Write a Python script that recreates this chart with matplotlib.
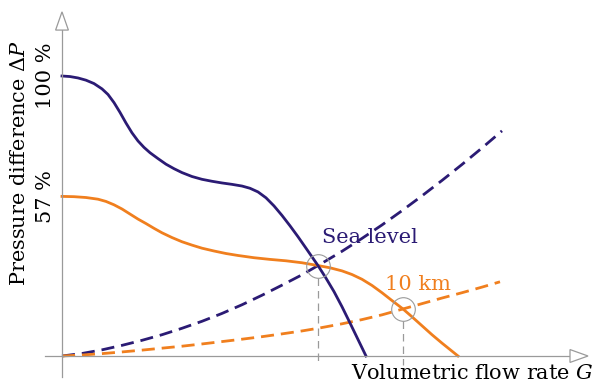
import matplotlib
matplotlib.use("Agg")
import matplotlib.pyplot as plt
from matplotlib.patches import Polygon

plt.rcParams['font.family'] = ['DejaVu Serif']
plt.rcParams['mathtext.fontset'] = 'dejavuserif'

NAVY = '#2B1B74'
ORANGE = '#F07F1E'
GRAY = '#9A9A9A'

# fan curve at sea level: flow rate G, pressure difference dP (% of max)
sea_fan_g = [0, 2, 4, 6, 8, 10, 11.5, 13, 14.5, 16, 17.5, 19, 20.5, 22, 24, 26,
             28, 30, 32.5, 35, 37.5, 40, 42.5, 45, 47, 49, 51, 53, 55, 57, 59,
             61, 62.5, 64, 66, 68, 70, 72, 74, 76]
sea_fan_p = [100, 99.8, 99.3, 98.5, 97.3, 95.4, 93.4, 90.5, 87.0, 83.2, 79.7,
             76.8, 74.5, 72.6, 70.5, 68.5, 66.9, 65.5, 64.1, 63.1, 62.4, 61.8,
             61.3, 60.7, 59.9, 58.6, 56.5, 53.6, 50.2, 46.5, 42.6, 38.5, 35.4,
             32.3, 27.8, 23.0, 17.6, 11.8, 5.9, 0]

# fan curve at 10 km altitude
alt_fan_g = [0, 3, 6, 9, 11, 13, 15, 17, 19, 21, 23, 25, 27.5, 30, 32.5, 35,
             38, 41, 44, 48, 52, 56, 60, 64, 67, 70, 72.5, 75, 77.5, 80, 82.5,
             85.25, 87.5, 90, 92.5, 95, 97, 99]
alt_fan_p = [57, 56.9, 56.6, 56.0, 55.2, 54.0, 52.5, 50.7, 48.9, 47.3, 45.6,
             44.0, 42.3, 40.8, 39.6, 38.5, 37.5, 36.6, 35.9, 35.1, 34.5, 34.0,
             33.3, 32.3, 31.5, 30.4, 29.1, 27.4, 25.2, 22.6, 19.8, 16.8, 14.0,
             10.8, 7.6, 4.6, 2.3, 0]

# system (duct) curves
sea_sys_g = [0, 5, 10, 15, 20, 25, 30, 35, 40, 45, 50, 55, 60, 64, 70, 75, 80,
             85, 90, 95, 100, 105, 110]
sea_sys_p = [0, 0.9, 2.2, 3.8, 5.6, 7.6, 9.9, 12.4, 15.2, 18.3, 21.7, 25.3,
             29.0, 32.3, 37.4, 42.0, 46.8, 51.9, 57.2, 62.7, 68.4, 74.3, 80.4]

alt_sys_g = [0, 5, 10, 15, 20, 25, 30, 35, 40, 45, 50, 55, 60, 64, 70, 75, 80,
             85.25, 90, 95, 100, 105, 109.5]
alt_sys_p = [0, 0.35, 0.85, 1.45, 2.1, 2.8, 3.5, 4.3, 5.15, 6.0, 6.9, 7.9,
             8.95, 9.9, 11.5, 13.0, 14.7, 16.8, 18.7, 20.7, 22.6, 24.6, 26.5]

# operating points
op_g = [64, 85.25]
op_p = [32.3, 16.8]

tick_values = [100, 57]
tick_labels = ['100 %', '57 %']

fig = plt.figure(figsize=(5.96, 3.92), dpi=100)
ax = fig.add_axes([0, 0, 1, 1])
ax.set_xlim(-15.5, 133.5)
ax.set_ylim(-12.857, 127.14)

# axes through the origin with open arrow heads
for side in ['top', 'right']:
    ax.spines[side].set_visible(False)
ax.spines['left'].set_position(('data', 0))
ax.spines['bottom'].set_position(('data', 0))
ax.spines['left'].set_bounds(-7.5, 116.4)
ax.spines['bottom'].set_bounds(-4.25, 127)
for side in ['left', 'bottom']:
    ax.spines[side].set_color(GRAY)
    ax.spines[side].set_linewidth(0.9)
ax.add_patch(Polygon([(-1.6, 116.4), (1.6, 116.4), (0, 122.9)], closed=True,
                     fc='white', ec=GRAY, lw=0.9, zorder=3))
ax.add_patch(Polygon([(127, -2.3), (127, 2.3), (131.5, 0)], closed=True,
                     fc='white', ec=GRAY, lw=0.9, zorder=3))

ax.set_xticks([])
ax.set_yticks(tick_values)
ax.set_yticklabels(tick_labels, rotation=90, va='center', fontsize=15)
ax.tick_params(axis='y', length=0, pad=5)

# guide lines from operating points down to the flow axis
for g, p in zip(op_g, op_p):
    ax.plot([g, g], [p - 4.3, -3.2], color=GRAY, lw=0.9, dashes=(6, 4), zorder=1)

line_kw = dict(lw=2, zorder=2, solid_joinstyle='round', dash_joinstyle='round')
ax.plot(sea_sys_g, sea_sys_p, color=NAVY, dashes=(4.7, 2.5), **line_kw)
ax.plot(alt_sys_g, alt_sys_p, color=ORANGE, dashes=(4.7, 2.5), **line_kw)
ax.plot(alt_fan_g, alt_fan_p, color=ORANGE, **line_kw)
ax.plot(sea_fan_g, sea_fan_p, color=NAVY, **line_kw)

ax.plot(op_g, op_p, ls='none', marker='o', ms=17, mfc='none', mec=GRAY,
        mew=0.8, zorder=4)

ax.text(65, 40.4, 'Sea level', color=NAVY, fontsize=15, va='baseline')
ax.text(80.75, 23.6, '10 km', color=ORANGE, fontsize=15, va='baseline')

ax.text(-10.5, 69, r'Pressure difference $\Delta P$', rotation=90,
        ha='center', va='center', fontsize=15)
ax.text(133, -8.2, r'Volumetric flow rate $G$', ha='right', va='baseline',
        fontsize=15)

fig.savefig('out.png', dpi=100)
